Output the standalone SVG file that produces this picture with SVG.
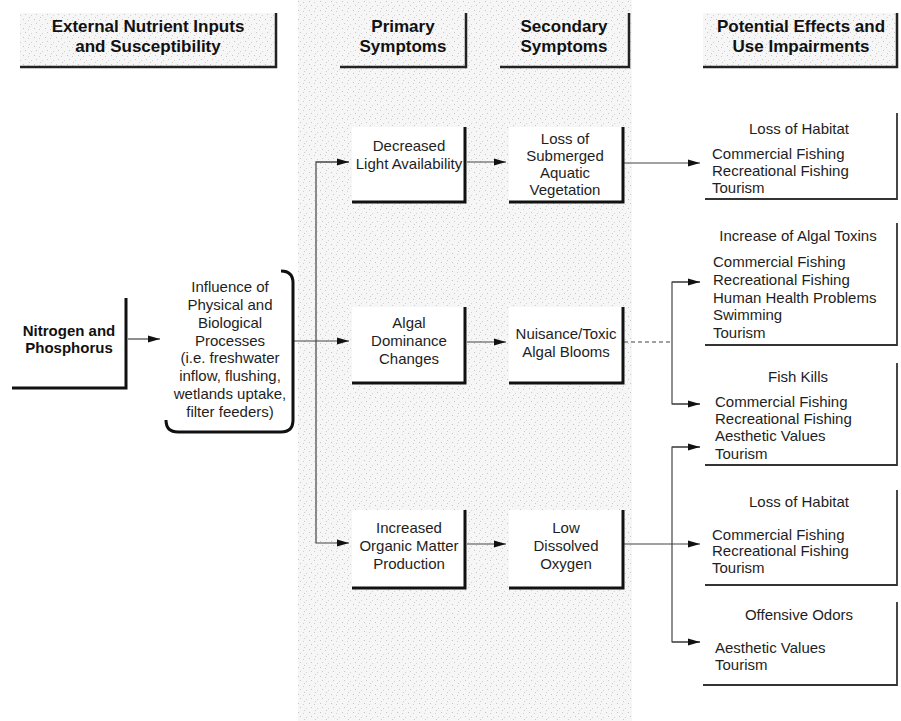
<svg xmlns="http://www.w3.org/2000/svg" width="901" height="721" viewBox="0 0 901 721">
<defs>
<pattern id="speck" width="11" height="9" patternUnits="userSpaceOnUse">
<rect width="11" height="9" fill="#f6f6f6"/>
<rect x="1" y="1" width="1" height="1" fill="#c4c4c4"/>
<rect x="6" y="2" width="1" height="1" fill="#cfcfcf"/>
<rect x="3" y="5" width="1" height="1" fill="#c8c8c8"/>
<rect x="9" y="6" width="1" height="1" fill="#d2d2d2"/>
<rect x="7" y="8" width="1" height="1" fill="#cacaca"/>
</pattern>
<marker id="arr" viewBox="0 0 12 8" refX="12" refY="4" markerWidth="12" markerHeight="8" markerUnits="userSpaceOnUse" orient="auto">
<path d="M0,0.5 L12,4 L0,7.5 Z" fill="#111"/>
</marker>
<style>
text{font-family:"Liberation Sans",Arial,Helvetica,sans-serif;fill:#1e1e1e}
.hd{font-size:17px;font-weight:bold;text-anchor:middle;fill:#111}
.nb{font-size:15px;text-anchor:middle}
.bd{font-size:15px;font-weight:bold;text-anchor:middle;fill:#111}
.it{font-size:15px}
.ttl{font-size:15px;text-anchor:middle}
.sh{fill:none;stroke:#111;stroke-width:3}
.sh2{fill:none;stroke:#333;stroke-width:1.8}
.hs{fill:none;stroke:#222;stroke-width:2.5}
.ln{fill:none;stroke:#444;stroke-width:1.2}
.white{fill:#fff}
</style>
</defs>
<rect width="901" height="721" fill="#fff"/>
<rect x="298" y="0" width="334" height="721" fill="url(#speck)"/>

<g id="header-external">
<rect x="20" y="13" width="256" height="54" fill="url(#speck)"/>
<path class="hs" d="M20,67 H276 V13"/>
<text class="hd" x="148" y="32">External Nutrient Inputs</text>
<text class="hd" x="148" y="52">and Susceptibility</text>
</g>
<g id="header-primary">
<path class="hs" d="M340,67 H466 V13"/>
<text class="hd" x="403" y="32">Primary</text>
<text class="hd" x="403" y="52">Symptoms</text>
</g>
<g id="header-secondary">
<path class="hs" d="M500,67 H629 V13"/>
<text class="hd" x="564" y="32">Secondary</text>
<text class="hd" x="564" y="52">Symptoms</text>
</g>
<g id="header-effects">
<rect x="703" y="13" width="194" height="54" fill="url(#speck)"/>
<path class="hs" d="M703,67 H897 V13"/>
<text class="hd" x="801" y="32">Potential Effects and</text>
<text class="hd" x="801" y="52">Use Impairments</text>
</g>

<g id="connectors">
<line class="ln" x1="128" y1="339" x2="160" y2="339" marker-end="url(#arr)"/>
<line class="ln" x1="294" y1="341" x2="349" y2="341" marker-end="url(#arr)"/>
<path class="ln" d="M349,162 H316 V543 H349" marker-end="url(#arr)"/>
<line class="ln" x1="316" y1="162" x2="349" y2="162" marker-end="url(#arr)"/>
<line class="ln" x1="467" y1="162" x2="506" y2="162" marker-end="url(#arr)"/>
<line class="ln" x1="467" y1="342" x2="506" y2="342" marker-end="url(#arr)"/>
<line class="ln" x1="467" y1="544" x2="506" y2="544" marker-end="url(#arr)"/>
<line class="ln" x1="624" y1="163" x2="700" y2="163" marker-end="url(#arr)"/>
<line class="ln" x1="624" y1="342" x2="672" y2="342" stroke-dasharray="4 3"/>
<path class="ln" d="M700,282 H672 V404 H700"/>
<line class="ln" x1="672" y1="282" x2="700" y2="282" marker-end="url(#arr)"/>
<line class="ln" x1="672" y1="404" x2="700" y2="404" marker-end="url(#arr)"/>
<line class="ln" x1="624" y1="544" x2="700" y2="544" marker-end="url(#arr)"/>
<path class="ln" d="M700,447 H672 V642 H700"/>
<line class="ln" x1="672" y1="447" x2="700" y2="447" marker-end="url(#arr)"/>
<line class="ln" x1="672" y1="642" x2="700" y2="642" marker-end="url(#arr)"/>
</g>

<g id="node-nitrogen">
<path class="sh" d="M12,388 H126 V298"/>
<text class="bd" x="69" y="336">Nitrogen and</text>
<text class="bd" x="69" y="353">Phosphorus</text>
</g>

<g id="node-influence">
<rect x="166" y="271" width="127" height="161" rx="12" class="white"/>
<path class="sh" d="M281,271 Q293,271 293,283 V420 Q293,432 281,432 H178 Q166,432 166,420"/>
<text class="nb" x="230" y="292">Influence of</text>
<text class="nb" x="230" y="310">Physical and</text>
<text class="nb" x="230" y="328">Biological</text>
<text class="nb" x="230" y="346">Processes</text>
<text class="nb" x="230" y="363">(i.e. freshwater</text>
<text class="nb" x="230" y="381">inflow, flushing,</text>
<text class="nb" x="230" y="399">wetlands uptake,</text>
<text class="nb" x="230" y="417">filter feeders)</text>
</g>

<g id="node-light">
<rect x="352" y="127" width="113" height="75" class="white"/>
<path class="sh" d="M352,202 H465 V127"/>
<text class="nb" x="409" y="151">Decreased</text>
<text class="nb" x="409" y="169">Light Availability</text>
</g>
<g id="node-algal">
<rect x="352" y="307" width="113" height="76" class="white"/>
<path class="sh" d="M352,383 H465 V307"/>
<text class="nb" x="409" y="328">Algal</text>
<text class="nb" x="409" y="346">Dominance</text>
<text class="nb" x="409" y="364">Changes</text>
</g>
<g id="node-organic">
<rect x="352" y="510" width="113" height="78" class="white"/>
<path class="sh" d="M352,588 H465 V510"/>
<text class="nb" x="409" y="533">Increased</text>
<text class="nb" x="409" y="551">Organic Matter</text>
<text class="nb" x="409" y="569">Production</text>
</g>

<g id="node-sav">
<rect x="509" y="127" width="114" height="75" class="white"/>
<path class="sh" d="M509,202 H623 V127"/>
<text class="nb" x="565" y="144">Loss of</text>
<text class="nb" x="565" y="161">Submerged</text>
<text class="nb" x="565" y="178">Aquatic</text>
<text class="nb" x="565" y="195">Vegetation</text>
</g>
<g id="node-blooms">
<rect x="509" y="307" width="114" height="76" class="white"/>
<path class="sh" d="M509,383 H623 V307"/>
<text class="nb" x="566" y="339">Nuisance/Toxic</text>
<text class="nb" x="566" y="357">Algal Blooms</text>
</g>
<g id="node-oxygen">
<rect x="509" y="510" width="114" height="78" class="white"/>
<path class="sh" d="M509,588 H623 V510"/>
<text class="nb" x="566" y="533">Low</text>
<text class="nb" x="566" y="551">Dissolved</text>
<text class="nb" x="566" y="569">Oxygen</text>
</g>

<g id="effect-habitat1">
<path class="sh2" d="M705,199 H897 V113"/>
<text class="ttl" x="799" y="134">Loss of Habitat</text>
<text class="it" x="712" y="159">Commercial Fishing</text>
<text class="it" x="712" y="176">Recreational Fishing</text>
<text class="it" x="712" y="193">Tourism</text>
</g>
<g id="effect-toxins">
<path class="sh2" d="M705,345 H897 V223"/>
<text class="ttl" x="798" y="241">Increase of Algal Toxins</text>
<text class="it" x="713" y="267">Commercial Fishing</text>
<text class="it" x="713" y="285">Recreational Fishing</text>
<text class="it" x="713" y="303">Human Health Problems</text>
<text class="it" x="713" y="320">Swimming</text>
<text class="it" x="713" y="338">Tourism</text>
</g>
<g id="effect-fishkills">
<path class="sh2" d="M705,465 H897 V363"/>
<text class="ttl" x="798" y="382">Fish Kills</text>
<text class="it" x="715" y="407">Commercial Fishing</text>
<text class="it" x="715" y="424">Recreational Fishing</text>
<text class="it" x="715" y="441">Aesthetic Values</text>
<text class="it" x="715" y="459">Tourism</text>
</g>
<g id="effect-habitat2">
<path class="sh2" d="M705,585 H897 V490"/>
<text class="ttl" x="799" y="507">Loss of Habitat</text>
<text class="it" x="712" y="540">Commercial Fishing</text>
<text class="it" x="712" y="556">Recreational Fishing</text>
<text class="it" x="712" y="573">Tourism</text>
</g>
<g id="effect-odors">
<path class="sh2" d="M703,685 H897 V602"/>
<text class="ttl" x="799" y="620">Offensive Odors</text>
<text class="it" x="715" y="653">Aesthetic Values</text>
<text class="it" x="715" y="670">Tourism</text>
</g>
</svg>
